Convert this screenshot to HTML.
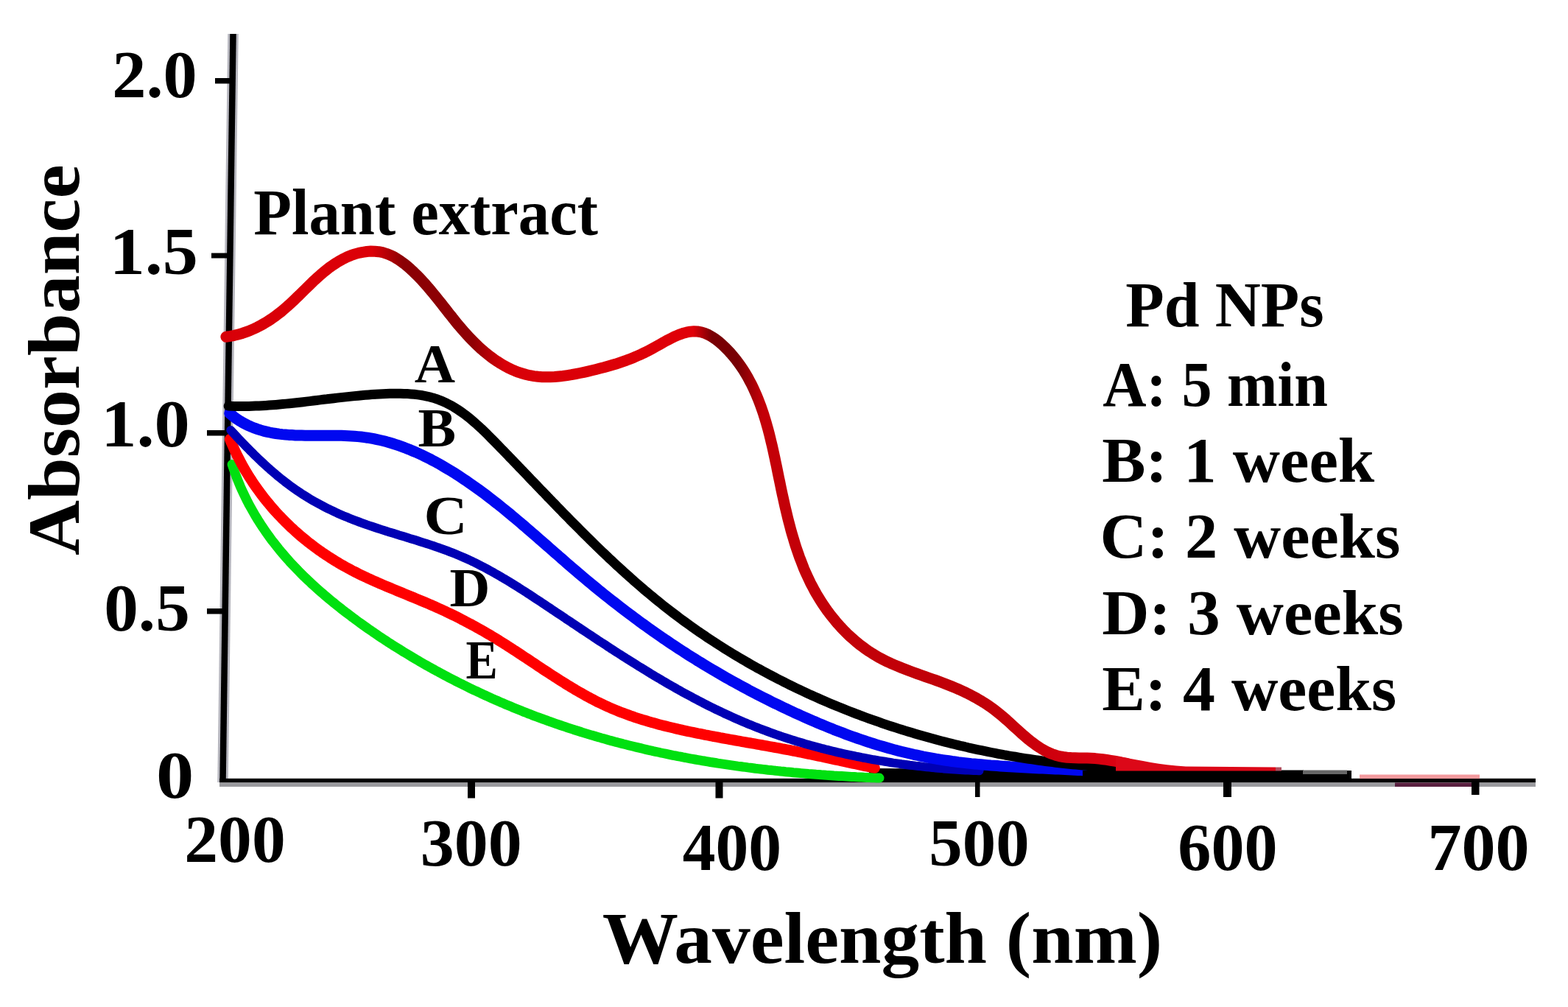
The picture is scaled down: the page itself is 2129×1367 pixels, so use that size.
<!DOCTYPE html>
<html><head><meta charset="utf-8"><style>
html,body{margin:0;padding:0;background:#fff;overflow:hidden;}
svg{display:block;}
text{font-family:"Liberation Serif","Times New Roman",serif;font-weight:bold;}
</style></head><body>
<svg width="2129" height="1367" viewBox="0 0 2129 1367">
<defs><linearGradient id="pg" gradientUnits="userSpaceOnUse" x1="300" y1="0" x2="2010" y2="0">
<stop offset="0" stop-color="#d80008"/>
<stop offset="0.12" stop-color="#dc0008"/>
<stop offset="0.145" stop-color="#8a0004"/>
<stop offset="0.2" stop-color="#900004"/>
<stop offset="0.225" stop-color="#d80008"/>
<stop offset="0.375" stop-color="#e00008"/>
<stop offset="0.39" stop-color="#780004"/>
<stop offset="0.41" stop-color="#780004"/>
<stop offset="0.43" stop-color="#c40008"/>
<stop offset="0.6" stop-color="#c00008"/>
<stop offset="0.7" stop-color="#d80010"/>
<stop offset="1" stop-color="#e04060"/>
</linearGradient></defs>
<rect width="2129" height="1367" fill="#fff"/>
<line x1="316.5" y1="46" x2="302.5" y2="1062" stroke="#b8b8c0" stroke-width="14.5"/>
<line x1="316.5" y1="46" x2="302.5" y2="1062" stroke="#000" stroke-width="8.5"/>
<rect x="298" y="1056.8" width="1787" height="5.7000000000000455" fill="#000"/>
<rect x="298" y="1062.5" width="1787" height="5.5" fill="#9a9a9e"/>
<rect x="292" y="106" width="23" height="7.5" fill="#000"/>
<rect x="287" y="343.5" width="25" height="7.0" fill="#000"/>
<rect x="281" y="584" width="28" height="7.5" fill="#000"/>
<rect x="281" y="826" width="25" height="7.5" fill="#000"/>
<rect x="635" y="1062" width="10" height="21.5" fill="#000"/>
<rect x="971.5" y="1062" width="10.0" height="21.5" fill="#000"/>
<rect x="1324" y="1062" width="6.5" height="20" fill="#000"/>
<rect x="1661" y="1062" width="11" height="20" fill="#000"/>
<rect x="1998" y="1062" width="10.5" height="17" fill="#000"/>
<rect x="1846" y="1051.5" width="163" height="5.5" fill="#f39a9e"/>
<rect x="1740" y="1045.5" width="30" height="6" fill="#000"/>
<path d="M1180,1043 L1290,1043.5 L1450,1046 L1835,1046 L1835,1058 L1180,1058 Z" fill="#000"/>
<path d="M315.1,630.4 L316.2,633.8 L317.4,637.2 L318.6,640.6 L319.8,643.9 L321.0,647.2 L322.3,650.5 L323.6,653.8 L325.0,657.1 L326.3,660.3 L327.7,663.5 L329.2,666.7 L330.7,669.8 L332.2,673.0 L333.7,676.1 L335.2,679.2 L336.8,682.3 L338.4,685.4 L340.1,688.4 L341.8,691.4 L343.5,694.4 L345.2,697.4 L346.9,700.4 L348.7,703.3 L350.5,706.2 L352.4,709.1 L354.2,712.0 L356.1,714.9 L358.0,717.7 L360.0,720.6 L361.9,723.4 L363.9,726.1 L365.9,728.9 L367.9,731.7 L370.0,734.4 L372.1,737.1 L374.2,739.8 L376.3,742.4 L378.4,745.1 L380.6,747.7 L382.8,750.4 L385.0,752.9 L387.2,755.5 L389.5,758.1 L391.8,760.6 L394.0,763.2 L396.4,765.7 L398.7,768.2 L401.0,770.6 L403.4,773.1 L405.8,775.5 L408.2,778.0 L410.6,780.4 L413.0,782.8 L415.5,785.1 L418.0,787.5 L420.5,789.8 L423.0,792.2 L425.5,794.5 L428.0,796.8 L430.6,799.1 L433.1,801.3 L435.7,803.6 L438.3,805.8 L440.9,808.1 L443.5,810.3 L446.1,812.5 L448.8,814.7 L451.4,816.9 L454.1,819.0 L456.8,821.2 L459.4,823.3 L462.1,825.4 L464.8,827.6 L467.6,829.7 L470.3,831.8 L473.0,833.8 L475.8,835.9 L478.5,838.0 L481.3,840.0 L484.1,842.1 L486.8,844.1 L489.6,846.1 L492.4,848.1 L495.2,850.1 L498.0,852.1 L500.8,854.1 L503.7,856.0 L506.5,858.0 L509.3,859.9 L512.2,861.9 L515.0,863.8 L517.9,865.7 L520.8,867.6 L523.7,869.5 L526.5,871.4 L529.4,873.2 L532.3,875.1 L535.2,877.0 L538.1,878.8 L541.0,880.6 L544.0,882.4 L546.9,884.3 L549.8,886.0 L552.8,887.8 L555.7,889.6 L558.7,891.4 L561.6,893.1 L564.6,894.9 L567.6,896.6 L570.5,898.4 L573.5,900.1 L576.5,901.8 L579.5,903.5 L582.5,905.2 L585.5,906.8 L588.5,908.5 L591.5,910.2 L594.6,911.8 L597.6,913.4 L600.6,915.1 L603.6,916.7 L606.7,918.3 L609.7,919.9 L612.8,921.5 L615.8,923.0 L618.9,924.6 L622.0,926.2 L625.0,927.7 L628.1,929.2 L631.2,930.8 L634.2,932.3 L637.3,933.8 L640.4,935.3 L643.5,936.8 L646.6,938.2 L649.7,939.7 L652.8,941.1 L655.9,942.6 L659.0,944.0 L662.1,945.4 L665.3,946.9 L668.4,948.3 L671.5,949.7 L674.7,951.0 L677.8,952.4 L680.9,953.8 L684.1,955.1 L687.2,956.5 L690.4,957.8 L693.6,959.1 L696.7,960.4 L699.9,961.7 L703.1,963.0 L706.3,964.3 L709.4,965.6 L712.6,966.8 L715.8,968.1 L719.0,969.3 L722.2,970.6 L725.4,971.8 L728.6,973.0 L731.8,974.2 L735.1,975.4 L738.3,976.5 L741.5,977.7 L744.7,978.9 L748.0,980.0 L751.2,981.2 L754.5,982.3 L757.7,983.4 L760.9,984.5 L764.2,985.6 L767.5,986.7 L770.7,987.8 L774.0,988.9 L777.2,989.9 L780.5,991.0 L783.8,992.0 L787.1,993.0 L790.3,994.1 L793.6,995.1 L796.9,996.1 L800.2,997.1 L803.5,998.1 L806.8,999.0 L810.1,1000.0 L813.4,1000.9 L816.7,1001.9 L820.0,1002.8 L823.3,1003.7 L826.6,1004.7 L830.0,1005.6 L833.3,1006.5 L836.6,1007.4 L839.9,1008.2 L843.3,1009.1 L846.6,1010.0 L849.9,1010.8 L853.3,1011.7 L856.6,1012.5 L859.9,1013.3 L863.3,1014.1 L866.6,1014.9 L870.0,1015.7 L873.3,1016.5 L876.7,1017.3 L880.0,1018.1 L883.4,1018.8 L886.7,1019.6 L890.1,1020.3 L893.5,1021.0 L896.8,1021.8 L900.2,1022.5 L903.6,1023.2 L906.9,1023.9 L910.3,1024.6 L913.7,1025.3 L917.0,1025.9 L920.4,1026.6 L923.8,1027.2 L927.2,1027.9 L930.6,1028.5 L933.9,1029.2 L937.3,1029.8 L940.7,1030.4 L944.1,1031.0 L947.5,1031.6 L950.9,1032.2 L954.3,1032.8 L957.7,1033.3 L961.1,1033.9 L964.5,1034.5 L967.9,1035.0 L971.3,1035.5 L974.7,1036.1 L978.1,1036.6 L981.5,1037.1 L984.9,1037.6 L988.3,1038.1 L991.7,1038.6 L995.1,1039.1 L998.5,1039.6 L1001.9,1040.1 L1005.3,1040.5 L1008.8,1041.0 L1012.2,1041.4 L1015.6,1041.9 L1019.0,1042.3 L1022.4,1042.7 L1025.8,1043.2 L1029.3,1043.6 L1032.7,1044.0 L1036.1,1044.4 L1039.5,1044.8 L1042.9,1045.2 L1046.4,1045.5 L1049.8,1045.9 L1053.2,1046.3 L1056.6,1046.6 L1060.1,1047.0 L1063.5,1047.3 L1066.9,1047.7 L1070.4,1048.0 L1073.8,1048.3 L1077.2,1048.7 L1080.7,1049.0 L1084.1,1049.3 L1087.5,1049.6 L1090.9,1049.9 L1094.4,1050.2 L1097.8,1050.5 L1101.2,1050.7 L1104.7,1051.0 L1108.1,1051.3 L1111.6,1051.5 L1115.0,1051.8 L1118.4,1052.0 L1121.9,1052.3 L1125.3,1052.5 L1128.7,1052.7 L1132.2,1053.0 L1135.6,1053.2 L1139.0,1053.4 L1142.5,1053.6 L1145.9,1053.8 L1149.4,1054.0 L1152.8,1054.2 L1156.2,1054.4 L1159.7,1054.6 L1163.1,1054.8 L1166.5,1054.9 L1170.0,1055.1 L1173.4,1055.3 L1176.9,1055.4 L1180.3,1055.6 L1183.7,1055.7 L1187.2,1055.8 L1190.6,1056.0 L1194.0,1056.1" fill="none" stroke="#00e010" stroke-width="13" stroke-linecap="round" stroke-linejoin="round"/>
<path d="M312.2,596.3 L313.5,599.5 L314.9,602.7 L316.3,605.9 L317.7,609.0 L319.1,612.1 L320.6,615.2 L322.1,618.3 L323.7,621.4 L325.3,624.4 L326.9,627.5 L328.5,630.5 L330.2,633.5 L331.8,636.4 L333.6,639.4 L335.3,642.3 L337.1,645.2 L338.9,648.1 L340.8,651.0 L342.6,653.8 L344.5,656.7 L346.4,659.5 L348.4,662.3 L350.4,665.0 L352.4,667.8 L354.4,670.5 L356.5,673.2 L358.5,675.9 L360.7,678.6 L362.8,681.2 L365.0,683.8 L367.1,686.4 L369.3,689.0 L371.6,691.6 L373.8,694.1 L376.1,696.6 L378.4,699.1 L380.8,701.6 L383.1,704.0 L385.5,706.4 L387.9,708.8 L390.3,711.2 L392.7,713.5 L395.2,715.9 L397.7,718.2 L400.2,720.5 L402.7,722.7 L405.3,725.0 L407.8,727.2 L410.4,729.4 L413.0,731.5 L415.7,733.7 L418.3,735.8 L421.0,737.9 L423.7,739.9 L426.4,742.0 L429.1,744.0 L431.8,746.0 L434.6,747.9 L437.4,749.9 L440.2,751.8 L443.0,753.7 L445.8,755.5 L448.7,757.4 L451.5,759.2 L454.4,761.0 L457.3,762.7 L460.2,764.5 L463.1,766.2 L466.1,767.9 L469.0,769.5 L472.0,771.1 L474.9,772.7 L477.9,774.3 L480.9,775.9 L484.0,777.4 L487.0,778.9 L490.0,780.4 L493.1,781.9 L496.2,783.3 L499.2,784.8 L502.3,786.2 L505.4,787.6 L508.5,789.0 L511.6,790.3 L514.7,791.7 L517.8,793.0 L520.9,794.4 L524.1,795.7 L527.2,797.0 L530.3,798.3 L533.5,799.6 L536.6,800.9 L539.7,802.2 L542.9,803.5 L546.0,804.8 L549.2,806.1 L552.3,807.4 L555.5,808.7 L558.6,810.0 L561.8,811.3 L564.9,812.6 L568.0,813.9 L571.2,815.2 L574.3,816.5 L577.4,817.8 L580.6,819.1 L583.7,820.5 L586.8,821.8 L589.9,823.2 L593.0,824.6 L596.1,826.0 L599.2,827.4 L602.2,828.8 L605.3,830.2 L608.4,831.7 L611.4,833.1 L614.5,834.6 L617.5,836.1 L620.5,837.6 L623.5,839.1 L626.5,840.7 L629.5,842.2 L632.5,843.8 L635.5,845.4 L638.5,846.9 L641.5,848.6 L644.5,850.2 L647.4,851.8 L650.4,853.5 L653.3,855.1 L656.3,856.8 L659.2,858.5 L662.1,860.2 L665.1,861.9 L668.0,863.7 L670.9,865.4 L673.8,867.2 L676.7,869.0 L679.6,870.8 L682.5,872.6 L685.3,874.4 L688.2,876.2 L691.1,878.1 L694.0,879.9 L696.8,881.8 L699.7,883.6 L702.5,885.5 L705.4,887.4 L708.2,889.3 L711.1,891.2 L713.9,893.0 L716.8,894.9 L719.6,896.8 L722.5,898.7 L725.3,900.6 L728.2,902.5 L731.0,904.4 L733.9,906.3 L736.7,908.2 L739.6,910.1 L742.4,911.9 L745.3,913.8 L748.2,915.7 L751.0,917.5 L753.9,919.4 L756.8,921.2 L759.6,923.1 L762.5,924.9 L765.4,926.7 L768.3,928.5 L771.2,930.3 L774.1,932.0 L777.0,933.8 L779.9,935.5 L782.8,937.3 L785.8,939.0 L788.7,940.6 L791.6,942.3 L794.6,944.0 L797.6,945.6 L800.5,947.2 L803.5,948.8 L806.5,950.3 L809.5,951.9 L812.5,953.4 L815.5,954.8 L818.6,956.3 L821.6,957.7 L824.7,959.1 L827.8,960.5 L830.8,961.8 L833.9,963.1 L837.0,964.4 L840.2,965.7 L843.3,966.9 L846.4,968.1 L849.6,969.3 L852.7,970.4 L855.9,971.6 L859.1,972.7 L862.3,973.8 L865.5,974.8 L868.7,975.8 L871.9,976.9 L875.1,977.8 L878.4,978.8 L881.6,979.8 L884.9,980.7 L888.1,981.6 L891.4,982.5 L894.6,983.4 L897.9,984.3 L901.2,985.1 L904.5,985.9 L907.8,986.7 L911.1,987.5 L914.4,988.3 L917.7,989.1 L921.0,989.9 L924.3,990.6 L927.6,991.4 L930.9,992.1 L934.3,992.8 L937.6,993.5 L940.9,994.2 L944.2,994.9 L947.6,995.6 L950.9,996.2 L954.3,996.9 L957.6,997.6 L960.9,998.2 L964.3,998.8 L967.6,999.5 L971.0,1000.1 L974.3,1000.7 L977.7,1001.4 L981.0,1002.0 L984.4,1002.6 L987.7,1003.2 L991.1,1003.8 L994.4,1004.4 L997.8,1005.0 L1001.1,1005.6 L1004.5,1006.2 L1007.8,1006.8 L1011.2,1007.4 L1014.5,1008.0 L1017.9,1008.5 L1021.2,1009.1 L1024.6,1009.7 L1027.9,1010.3 L1031.3,1010.9 L1034.6,1011.5 L1038.0,1012.1 L1041.3,1012.7 L1044.7,1013.3 L1048.0,1013.9 L1051.4,1014.5 L1054.7,1015.1 L1058.1,1015.7 L1061.4,1016.4 L1064.8,1017.0 L1068.1,1017.6 L1071.4,1018.2 L1074.8,1018.9 L1078.1,1019.5 L1081.5,1020.2 L1084.8,1020.8 L1088.1,1021.5 L1091.4,1022.2 L1094.8,1022.9 L1098.1,1023.6 L1101.4,1024.2 L1104.7,1024.9 L1108.1,1025.6 L1111.4,1026.3 L1114.7,1027.0 L1118.0,1027.7 L1121.3,1028.5 L1124.6,1029.2 L1128.0,1029.9 L1131.3,1030.6 L1134.6,1031.3 L1137.9,1032.0 L1141.2,1032.7 L1144.5,1033.5 L1147.8,1034.2 L1151.1,1034.9 L1154.5,1035.6 L1157.8,1036.3 L1161.1,1037.0 L1164.4,1037.7 L1167.7,1038.4 L1171.0,1039.1 L1174.3,1039.8 L1177.7,1040.5 L1181.0,1041.2 L1184.3,1041.8 L1187.6,1042.5" fill="none" stroke="#ff0000" stroke-width="14.5" stroke-linecap="round" stroke-linejoin="round"/>
<path d="M313.3,584.0 L315.9,586.8 L318.5,589.6 L321.1,592.5 L323.8,595.3 L326.4,598.1 L329.1,600.9 L331.8,603.7 L334.5,606.4 L337.2,609.2 L339.9,611.9 L342.6,614.6 L345.4,617.4 L348.1,620.0 L350.9,622.7 L353.7,625.4 L356.5,628.0 L359.3,630.6 L362.1,633.2 L365.0,635.7 L367.8,638.3 L370.7,640.8 L373.6,643.2 L376.5,645.7 L379.5,648.1 L382.4,650.5 L385.4,652.8 L388.4,655.2 L391.4,657.4 L394.5,659.7 L397.5,661.9 L400.6,664.1 L403.7,666.2 L406.8,668.3 L410.0,670.4 L413.1,672.4 L416.3,674.4 L419.5,676.4 L422.7,678.3 L426.0,680.2 L429.3,682.0 L432.5,683.8 L435.8,685.6 L439.2,687.4 L442.5,689.1 L445.9,690.8 L449.3,692.4 L452.7,694.0 L456.1,695.6 L459.5,697.2 L462.9,698.7 L466.4,700.2 L469.9,701.6 L473.4,703.1 L476.9,704.5 L480.4,705.9 L483.9,707.2 L487.5,708.5 L491.1,709.8 L494.6,711.1 L498.2,712.4 L501.8,713.6 L505.4,714.8 L509.0,716.0 L512.7,717.2 L516.3,718.4 L519.9,719.6 L523.6,720.7 L527.2,721.9 L530.9,723.0 L534.5,724.1 L538.2,725.2 L541.8,726.4 L545.5,727.5 L549.2,728.6 L552.8,729.7 L556.5,730.9 L560.2,732.0 L563.8,733.1 L567.5,734.3 L571.1,735.4 L574.8,736.6 L578.4,737.7 L582.0,738.9 L585.7,740.1 L589.3,741.3 L592.9,742.6 L596.5,743.8 L600.1,745.1 L603.6,746.4 L607.2,747.7 L610.8,749.1 L614.3,750.4 L617.8,751.8 L621.3,753.3 L624.8,754.7 L628.3,756.2 L631.8,757.8 L635.2,759.3 L638.7,760.9 L642.1,762.5 L645.5,764.2 L648.9,765.9 L652.2,767.6 L655.6,769.3 L658.9,771.1 L662.3,772.9 L665.6,774.7 L668.9,776.5 L672.2,778.4 L675.5,780.2 L678.8,782.1 L682.0,784.1 L685.3,786.0 L688.5,787.9 L691.8,789.9 L695.0,791.9 L698.2,793.9 L701.5,795.9 L704.7,797.9 L707.9,800.0 L711.1,802.0 L714.3,804.1 L717.5,806.2 L720.7,808.2 L723.8,810.3 L727.0,812.4 L730.2,814.5 L733.4,816.6 L736.6,818.7 L739.7,820.8 L742.9,822.9 L746.1,825.0 L749.2,827.2 L752.4,829.3 L755.6,831.4 L758.7,833.5 L761.9,835.6 L765.1,837.7 L768.2,839.9 L771.4,842.0 L774.6,844.1 L777.7,846.2 L780.9,848.3 L784.1,850.4 L787.2,852.5 L790.4,854.7 L793.6,856.8 L796.7,858.9 L799.9,861.0 L803.1,863.1 L806.3,865.2 L809.4,867.3 L812.6,869.4 L815.8,871.5 L819.0,873.5 L822.2,875.6 L825.3,877.7 L828.5,879.8 L831.7,881.8 L834.9,883.9 L838.1,886.0 L841.3,888.0 L844.5,890.1 L847.7,892.1 L850.9,894.2 L854.1,896.2 L857.3,898.2 L860.5,900.2 L863.8,902.2 L867.0,904.3 L870.2,906.2 L873.4,908.2 L876.7,910.2 L879.9,912.2 L883.1,914.2 L886.4,916.1 L889.6,918.1 L892.9,920.0 L896.2,921.9 L899.4,923.9 L902.7,925.8 L906.0,927.7 L909.2,929.6 L912.5,931.4 L915.8,933.3 L919.1,935.2 L922.4,937.0 L925.7,938.9 L929.0,940.7 L932.3,942.5 L935.7,944.3 L939.0,946.1 L942.3,947.9 L945.7,949.6 L949.0,951.4 L952.4,953.1 L955.7,954.9 L959.1,956.6 L962.5,958.3 L965.9,960.0 L969.2,961.6 L972.6,963.3 L976.0,964.9 L979.5,966.5 L982.9,968.2 L986.3,969.8 L989.7,971.3 L993.2,972.9 L996.6,974.4 L1000.1,976.0 L1003.6,977.5 L1007.0,979.0 L1010.5,980.5 L1014.0,981.9 L1017.5,983.4 L1021.0,984.8 L1024.5,986.2 L1028.1,987.6 L1031.6,989.0 L1035.2,990.4 L1038.7,991.7 L1042.3,993.0 L1045.9,994.3 L1049.4,995.6 L1053.0,996.9 L1056.6,998.1 L1060.2,999.4 L1063.9,1000.6 L1067.5,1001.8 L1071.1,1002.9 L1074.7,1004.1 L1078.4,1005.3 L1082.0,1006.4 L1085.7,1007.5 L1089.4,1008.6 L1093.0,1009.7 L1096.7,1010.7 L1100.4,1011.8 L1104.1,1012.8 L1107.8,1013.8 L1111.5,1014.8 L1115.2,1015.8 L1118.9,1016.7 L1122.6,1017.7 L1126.3,1018.6 L1130.0,1019.5 L1133.7,1020.4 L1137.5,1021.3 L1141.2,1022.1 L1145.0,1023.0 L1148.7,1023.8 L1152.4,1024.6 L1156.2,1025.4 L1160.0,1026.2 L1163.7,1027.0 L1167.5,1027.7 L1171.2,1028.5 L1175.0,1029.2 L1178.8,1029.9 L1182.5,1030.6 L1186.3,1031.3 L1190.1,1031.9 L1193.9,1032.6 L1197.6,1033.2 L1201.4,1033.8 L1205.2,1034.4 L1209.0,1035.0 L1212.8,1035.6 L1216.5,1036.1 L1220.3,1036.6 L1224.1,1037.2 L1227.9,1037.7 L1231.7,1038.2 L1235.5,1038.7 L1239.3,1039.1 L1243.0,1039.6 L1246.8,1040.0 L1250.6,1040.4 L1254.4,1040.9 L1258.2,1041.3 L1262.0,1041.6 L1265.7,1042.0 L1269.5,1042.4 L1273.3,1042.7 L1277.1,1043.0 L1280.8,1043.4 L1284.6,1043.7 L1288.4,1043.9 L1292.1,1044.2 L1295.9,1044.5 L1299.7,1044.7 L1303.4,1045.0 L1307.2,1045.2 L1310.9,1045.4 L1314.7,1045.6 L1318.4,1045.8 L1322.1,1046.0 L1325.9,1046.1 L1329.6,1046.3" fill="none" stroke="#0000b4" stroke-width="12" stroke-linecap="round" stroke-linejoin="round"/>
<path d="M311.7,561.0 L315.3,564.0 L318.9,566.8 L322.5,569.4 L326.3,571.8 L330.0,574.0 L333.9,576.0 L337.8,577.9 L341.7,579.6 L345.7,581.2 L349.7,582.6 L353.8,583.9 L357.9,585.1 L362.1,586.1 L366.2,587.0 L370.5,587.8 L374.7,588.5 L379.0,589.1 L383.3,589.6 L387.7,590.0 L392.1,590.4 L396.4,590.6 L400.9,590.9 L405.3,591.0 L409.7,591.1 L414.2,591.2 L418.7,591.2 L423.2,591.3 L427.7,591.3 L432.2,591.2 L436.7,591.2 L441.2,591.2 L445.7,591.2 L450.2,591.2 L454.7,591.2 L459.2,591.3 L463.6,591.3 L468.1,591.5 L472.6,591.7 L477.0,591.9 L481.4,592.2 L485.8,592.6 L490.2,593.0 L494.6,593.6 L498.9,594.2 L503.2,594.9 L507.5,595.7 L511.8,596.6 L516.0,597.5 L520.3,598.5 L524.5,599.6 L528.6,600.8 L532.8,602.0 L536.9,603.3 L541.0,604.7 L545.1,606.1 L549.2,607.6 L553.2,609.2 L557.3,610.8 L561.2,612.5 L565.2,614.2 L569.2,616.0 L573.1,617.8 L577.0,619.7 L580.9,621.7 L584.8,623.6 L588.6,625.7 L592.5,627.7 L596.3,629.8 L600.1,632.0 L603.8,634.2 L607.6,636.4 L611.3,638.6 L615.0,640.9 L618.7,643.2 L622.3,645.6 L626.0,648.0 L629.6,650.4 L633.2,652.8 L636.8,655.3 L640.4,657.8 L644.0,660.3 L647.5,662.8 L651.1,665.4 L654.6,668.0 L658.1,670.6 L661.6,673.3 L665.1,675.9 L668.6,678.6 L672.0,681.3 L675.5,684.0 L678.9,686.8 L682.3,689.5 L685.7,692.3 L689.2,695.1 L692.6,697.9 L695.9,700.7 L699.3,703.5 L702.7,706.4 L706.1,709.2 L709.4,712.1 L712.8,714.9 L716.1,717.8 L719.5,720.7 L722.8,723.6 L726.2,726.5 L729.5,729.4 L732.8,732.3 L736.2,735.2 L739.5,738.1 L742.8,741.0 L746.2,744.0 L749.5,746.9 L752.8,749.8 L756.1,752.7 L759.5,755.6 L762.8,758.5 L766.1,761.4 L769.4,764.3 L772.8,767.2 L776.1,770.1 L779.5,773.0 L782.8,775.8 L786.2,778.7 L789.5,781.5 L792.9,784.4 L796.3,787.2 L799.6,790.0 L803.0,792.8 L806.4,795.6 L809.8,798.4 L813.2,801.2 L816.6,803.9 L820.0,806.7 L823.4,809.4 L826.9,812.1 L830.3,814.8 L833.8,817.5 L837.2,820.2 L840.7,822.9 L844.1,825.6 L847.6,828.2 L851.1,830.9 L854.6,833.5 L858.1,836.1 L861.6,838.7 L865.1,841.3 L868.6,843.9 L872.1,846.5 L875.7,849.0 L879.2,851.6 L882.8,854.1 L886.3,856.6 L889.9,859.1 L893.5,861.6 L897.1,864.1 L900.6,866.6 L904.3,869.0 L907.9,871.5 L911.5,873.9 L915.1,876.3 L918.8,878.8 L922.4,881.2 L926.1,883.5 L929.8,885.9 L933.4,888.3 L937.1,890.6 L940.8,892.9 L944.6,895.2 L948.3,897.6 L952.0,899.8 L955.7,902.1 L959.5,904.4 L963.2,906.6 L967.0,908.9 L970.8,911.1 L974.6,913.3 L978.4,915.5 L982.2,917.7 L986.0,919.9 L989.8,922.0 L993.6,924.2 L997.4,926.3 L1001.3,928.4 L1005.1,930.5 L1009.0,932.6 L1012.9,934.7 L1016.7,936.8 L1020.6,938.8 L1024.5,940.8 L1028.4,942.9 L1032.3,944.9 L1036.2,946.9 L1040.1,948.8 L1044.1,950.8 L1048.0,952.8 L1051.9,954.7 L1055.9,956.6 L1059.8,958.5 L1063.8,960.4 L1067.8,962.3 L1071.8,964.2 L1075.7,966.0 L1079.7,967.9 L1083.7,969.7 L1087.7,971.5 L1091.8,973.3 L1095.8,975.1 L1099.8,976.9 L1103.8,978.6 L1107.9,980.3 L1111.9,982.1 L1116.0,983.8 L1120.0,985.4 L1124.1,987.1 L1128.2,988.7 L1132.2,990.4 L1136.3,992.0 L1140.4,993.5 L1144.5,995.1 L1148.6,996.7 L1152.7,998.2 L1156.9,999.7 L1161.0,1001.1 L1165.1,1002.6 L1169.3,1004.0 L1173.4,1005.4 L1177.6,1006.8 L1181.7,1008.2 L1185.9,1009.5 L1190.1,1010.8 L1194.3,1012.1 L1198.5,1013.3 L1202.7,1014.5 L1206.9,1015.7 L1211.1,1016.9 L1215.3,1018.1 L1219.6,1019.2 L1223.8,1020.3 L1228.0,1021.3 L1232.3,1022.3 L1236.6,1023.3 L1240.8,1024.3 L1245.1,1025.2 L1249.4,1026.1 L1253.7,1027.0 L1258.0,1027.8 L1262.3,1028.6 L1266.6,1029.4 L1270.9,1030.2 L1275.2,1030.9 L1279.6,1031.6 L1283.9,1032.2 L1288.2,1032.8 L1292.6,1033.5 L1296.9,1034.0 L1301.3,1034.6 L1305.7,1035.1 L1310.0,1035.6 L1314.4,1036.1 L1318.8,1036.6 L1323.2,1037.0 L1327.6,1037.4 L1331.9,1037.8 L1336.3,1038.2 L1340.7,1038.6 L1345.1,1039.0 L1349.5,1039.3 L1353.9,1039.6 L1358.3,1039.9 L1362.7,1040.2 L1367.1,1040.5 L1371.5,1040.8 L1375.9,1041.0 L1380.4,1041.3 L1384.8,1041.5 L1389.2,1041.8 L1393.6,1042.0 L1398.0,1042.2 L1402.4,1042.4 L1406.8,1042.7 L1411.2,1042.9 L1415.6,1043.1 L1420.0,1043.3 L1424.4,1043.5 L1428.8,1043.7 L1433.2,1043.9 L1437.5,1044.1 L1441.9,1044.3 L1446.3,1044.5 L1450.7,1044.7 L1455.1,1044.9 L1459.4,1045.2 L1463.8,1045.4 L1468.1,1045.6 L1472.5,1045.9 L1476.9,1046.1 L1481.2,1046.4 L1485.5,1046.7 L1489.9,1047.0" fill="none" stroke="#0008f0" stroke-width="15" stroke-linecap="round" stroke-linejoin="round"/>
<path d="M310.2,551.1 L314.8,551.3 L319.5,551.4 L324.1,551.5 L328.7,551.5 L333.3,551.5 L337.9,551.4 L342.5,551.3 L347.1,551.1 L351.7,550.9 L356.3,550.7 L360.9,550.4 L365.5,550.1 L370.1,549.8 L374.7,549.4 L379.3,549.0 L383.9,548.6 L388.5,548.1 L393.0,547.7 L397.6,547.2 L402.2,546.7 L406.9,546.2 L411.5,545.7 L416.1,545.1 L420.7,544.6 L425.3,544.0 L429.9,543.5 L434.6,542.9 L439.2,542.3 L443.9,541.8 L448.5,541.2 L453.2,540.7 L457.9,540.1 L462.5,539.6 L467.2,539.1 L471.9,538.6 L476.6,538.1 L481.4,537.6 L486.1,537.2 L490.8,536.7 L495.6,536.3 L500.4,535.9 L505.1,535.6 L509.9,535.3 L514.7,535.0 L519.6,534.7 L524.4,534.5 L529.2,534.3 L534.0,534.2 L538.9,534.2 L543.7,534.2 L548.5,534.4 L553.2,534.6 L557.9,534.9 L562.6,535.3 L567.3,535.9 L571.9,536.5 L576.4,537.3 L580.9,538.3 L585.3,539.4 L589.6,540.6 L593.9,542.0 L598.0,543.6 L602.1,545.3 L606.2,547.2 L610.1,549.2 L614.0,551.3 L617.8,553.6 L621.6,556.0 L625.3,558.5 L629.0,561.1 L632.6,563.8 L636.2,566.6 L639.7,569.5 L643.2,572.5 L646.6,575.5 L650.1,578.6 L653.5,581.7 L656.8,584.9 L660.2,588.2 L663.5,591.5 L666.8,594.8 L670.1,598.1 L673.4,601.5 L676.6,604.8 L679.9,608.2 L683.2,611.5 L686.4,614.9 L689.7,618.3 L692.9,621.7 L696.2,625.0 L699.4,628.4 L702.7,631.8 L705.9,635.2 L709.2,638.5 L712.4,641.9 L715.7,645.3 L718.9,648.7 L722.1,652.1 L725.4,655.4 L728.6,658.8 L731.9,662.2 L735.1,665.6 L738.4,668.9 L741.6,672.3 L744.8,675.7 L748.1,679.0 L751.3,682.4 L754.6,685.7 L757.8,689.1 L761.1,692.4 L764.3,695.8 L767.6,699.1 L770.9,702.4 L774.1,705.8 L777.4,709.1 L780.7,712.4 L784.0,715.7 L787.3,719.0 L790.6,722.3 L793.9,725.6 L797.2,728.8 L800.5,732.1 L803.8,735.4 L807.1,738.6 L810.4,741.8 L813.8,745.1 L817.1,748.3 L820.5,751.5 L823.8,754.7 L827.2,757.9 L830.6,761.1 L834.0,764.2 L837.4,767.4 L840.8,770.5 L844.2,773.6 L847.6,776.7 L851.1,779.8 L854.5,782.9 L858.0,786.0 L861.4,789.1 L864.9,792.1 L868.4,795.1 L871.9,798.2 L875.4,801.2 L879.0,804.1 L882.5,807.1 L886.1,810.1 L889.6,813.0 L893.2,815.9 L896.8,818.8 L900.4,821.7 L904.1,824.6 L907.7,827.4 L911.4,830.2 L915.0,833.0 L918.7,835.8 L922.4,838.6 L926.1,841.4 L929.9,844.1 L933.6,846.8 L937.4,849.5 L941.1,852.2 L944.9,854.8 L948.7,857.5 L952.6,860.1 L956.4,862.7 L960.2,865.3 L964.1,867.9 L968.0,870.4 L971.8,872.9 L975.7,875.4 L979.6,877.9 L983.6,880.4 L987.5,882.9 L991.4,885.3 L995.4,887.7 L999.4,890.1 L1003.4,892.5 L1007.4,894.9 L1011.4,897.2 L1015.4,899.5 L1019.4,901.8 L1023.5,904.1 L1027.5,906.4 L1031.6,908.6 L1035.7,910.9 L1039.8,913.1 L1043.9,915.3 L1048.0,917.4 L1052.1,919.6 L1056.2,921.7 L1060.4,923.8 L1064.5,925.9 L1068.7,928.0 L1072.9,930.1 L1077.1,932.1 L1081.3,934.2 L1085.5,936.2 L1089.7,938.1 L1093.9,940.1 L1098.1,942.1 L1102.4,944.0 L1106.6,945.9 L1110.9,947.8 L1115.2,949.7 L1119.4,951.5 L1123.7,953.4 L1128.0,955.2 L1132.3,957.0 L1136.6,958.8 L1141.0,960.5 L1145.3,962.3 L1149.6,964.0 L1154.0,965.7 L1158.3,967.4 L1162.7,969.1 L1167.1,970.7 L1171.4,972.4 L1175.8,974.0 L1180.2,975.6 L1184.6,977.1 L1189.0,978.7 L1193.4,980.2 L1197.8,981.8 L1202.3,983.3 L1206.7,984.8 L1211.1,986.2 L1215.6,987.7 L1220.0,989.1 L1224.5,990.5 L1228.9,991.9 L1233.4,993.3 L1237.9,994.6 L1242.4,996.0 L1246.8,997.3 L1251.3,998.6 L1255.8,999.8 L1260.3,1001.1 L1264.8,1002.3 L1269.3,1003.6 L1273.8,1004.8 L1278.4,1006.0 L1282.9,1007.1 L1287.4,1008.3 L1291.9,1009.4 L1296.5,1010.5 L1301.0,1011.6 L1305.5,1012.7 L1310.1,1013.7 L1314.6,1014.8 L1319.2,1015.8 L1323.7,1016.8 L1328.3,1017.8 L1332.8,1018.7 L1337.4,1019.7 L1342.0,1020.6 L1346.5,1021.5 L1351.1,1022.4 L1355.7,1023.3 L1360.3,1024.1 L1364.8,1025.0 L1369.4,1025.8 L1374.0,1026.6 L1378.6,1027.3 L1383.2,1028.1 L1387.7,1028.8 L1392.3,1029.6 L1396.9,1030.3 L1401.5,1030.9 L1406.1,1031.6 L1410.7,1032.2 L1415.3,1032.9 L1419.9,1033.5 L1424.5,1034.1 L1429.1,1034.6 L1433.7,1035.2 L1438.2,1035.7 L1442.8,1036.2 L1447.4,1036.7 L1452.0,1037.2 L1456.6,1037.7 L1461.2,1038.1 L1465.8,1038.5 L1470.4,1039.0 L1475.0,1039.3 L1479.6,1039.7 L1484.2,1040.1 L1488.7,1040.4 L1493.3,1040.7 L1497.9,1041.0 L1502.5,1041.3 L1507.1,1041.5 L1511.7,1041.8 L1516.2,1042.0 L1520.8,1042.2 L1525.4,1042.3 L1530.0,1042.5 L1534.5,1042.7 L1539.1,1042.8" fill="none" stroke="#000000" stroke-width="13" stroke-linecap="round" stroke-linejoin="round"/>
<path d="M306.9,457.2 L312.6,456.4 L318.2,455.3 L323.6,453.9 L329.0,452.4 L334.2,450.6 L339.4,448.7 L344.4,446.5 L349.3,444.2 L354.2,441.6 L359.0,438.9 L363.6,436.1 L368.2,433.1 L372.8,429.9 L377.2,426.6 L381.6,423.2 L385.8,419.6 L390.1,415.9 L394.2,412.2 L398.4,408.3 L402.4,404.4 L406.5,400.5 L410.5,396.5 L414.6,392.5 L418.6,388.6 L422.7,384.6 L426.7,380.7 L430.9,376.9 L435.0,373.2 L439.3,369.6 L443.6,366.1 L447.9,362.7 L452.4,359.6 L457.0,356.6 L461.7,353.8 L466.5,351.2 L471.4,348.8 L476.5,346.7 L481.8,344.9 L487.1,343.4 L492.5,342.3 L498.0,341.5 L503.4,341.1 L508.9,341.2 L514.2,341.7 L519.5,342.7 L524.7,344.3 L529.7,346.2 L534.6,348.6 L539.4,351.4 L544.0,354.5 L548.6,357.8 L553.0,361.4 L557.3,365.2 L561.5,369.1 L565.6,373.1 L569.5,377.1 L573.4,381.2 L577.2,385.4 L580.9,389.6 L584.5,393.9 L588.1,398.2 L591.6,402.5 L595.1,406.9 L598.6,411.2 L602.0,415.6 L605.5,420.0 L608.9,424.4 L612.4,428.7 L615.8,433.1 L619.3,437.4 L622.8,441.7 L626.4,445.9 L630.1,450.1 L633.8,454.2 L637.5,458.3 L641.4,462.3 L645.4,466.3 L649.4,470.1 L653.5,473.9 L657.7,477.5 L662.0,481.0 L666.3,484.4 L670.7,487.6 L675.3,490.7 L679.9,493.6 L684.6,496.4 L689.3,498.9 L694.2,501.3 L699.1,503.4 L704.2,505.4 L709.3,507.0 L714.5,508.5 L719.7,509.7 L725.1,510.6 L730.6,511.3 L736.1,511.7 L741.7,511.8 L747.3,511.8 L753.0,511.5 L758.7,511.0 L764.4,510.4 L770.2,509.6 L775.9,508.7 L781.6,507.6 L787.2,506.5 L792.9,505.3 L798.4,504.1 L803.9,502.8 L809.3,501.5 L814.7,500.1 L819.9,498.8 L825.2,497.3 L830.3,495.8 L835.5,494.3 L840.6,492.6 L845.6,490.9 L850.7,489.1 L855.7,487.2 L860.7,485.2 L865.7,483.0 L870.7,480.8 L875.8,478.4 L880.8,475.8 L885.9,473.1 L891.0,470.3 L896.1,467.4 L901.2,464.5 L906.4,461.7 L911.5,459.1 L916.6,456.6 L921.8,454.4 L926.9,452.6 L932.0,451.2 L937.1,450.2 L942.1,449.8 L947.1,450.0 L952.1,450.8 L957.0,452.4 L961.9,454.5 L966.7,457.2 L971.3,460.3 L975.9,463.8 L980.3,467.6 L984.5,471.6 L988.6,475.7 L992.4,479.9 L996.2,484.3 L999.7,488.7 L1003.1,493.2 L1006.3,497.8 L1009.4,502.4 L1012.4,507.2 L1015.2,512.0 L1017.8,516.9 L1020.4,521.8 L1022.8,526.8 L1025.1,531.8 L1027.3,536.8 L1029.4,541.9 L1031.4,547.1 L1033.3,552.2 L1035.1,557.4 L1036.9,562.7 L1038.5,567.9 L1040.1,573.2 L1041.6,578.5 L1043.1,583.8 L1044.5,589.2 L1045.8,594.5 L1047.1,599.9 L1048.4,605.3 L1049.6,610.7 L1050.8,616.2 L1052.0,621.6 L1053.1,627.0 L1054.3,632.5 L1055.4,638.0 L1056.5,643.4 L1057.6,648.9 L1058.8,654.4 L1059.9,659.9 L1061.0,665.3 L1062.2,670.8 L1063.4,676.2 L1064.6,681.7 L1065.8,687.1 L1067.1,692.6 L1068.4,698.0 L1069.7,703.4 L1071.1,708.8 L1072.5,714.2 L1073.9,719.6 L1075.4,724.9 L1077.0,730.2 L1078.6,735.5 L1080.2,740.8 L1082.0,746.1 L1083.8,751.3 L1085.6,756.5 L1087.6,761.6 L1089.6,766.8 L1091.6,771.9 L1093.8,776.9 L1096.1,782.0 L1098.4,786.9 L1100.8,791.9 L1103.4,796.8 L1106.0,801.7 L1108.7,806.5 L1111.5,811.2 L1114.5,816.0 L1117.5,820.6 L1120.7,825.3 L1123.9,829.8 L1127.3,834.3 L1130.8,838.7 L1134.4,843.1 L1138.0,847.3 L1141.8,851.5 L1145.7,855.6 L1149.6,859.6 L1153.7,863.5 L1157.9,867.2 L1162.1,870.9 L1166.4,874.4 L1170.9,877.8 L1175.4,881.1 L1180.0,884.3 L1184.7,887.3 L1189.4,890.1 L1194.2,892.9 L1199.2,895.5 L1204.1,897.9 L1209.2,900.3 L1214.2,902.5 L1219.4,904.7 L1224.5,906.8 L1229.7,908.8 L1234.9,910.8 L1240.2,912.7 L1245.4,914.6 L1250.7,916.5 L1255.9,918.3 L1261.2,920.2 L1266.4,922.0 L1271.7,923.9 L1276.8,925.8 L1282.0,927.7 L1287.1,929.7 L1292.2,931.8 L1297.3,933.9 L1302.3,936.0 L1307.2,938.3 L1312.2,940.6 L1317.0,943.0 L1321.8,945.6 L1326.6,948.2 L1331.3,950.9 L1336.0,953.8 L1340.6,956.8 L1345.1,959.9 L1349.6,963.1 L1354.0,966.6 L1358.4,970.1 L1362.7,973.8 L1367.0,977.5 L1371.2,981.3 L1375.4,985.2 L1379.6,989.0 L1383.8,992.8 L1388.0,996.6 L1392.3,1000.3 L1396.6,1003.9 L1400.9,1007.3 L1405.3,1010.6 L1409.7,1013.7 L1414.2,1016.5 L1418.8,1019.1 L1423.5,1021.5 L1428.3,1023.5 L1433.3,1025.2 L1438.3,1026.6 L1443.5,1027.5 L1448.8,1028.2 L1454.2,1028.6 L1459.6,1028.8 L1465.1,1028.9 L1470.6,1029.0 L1476.1,1029.1 L1481.5,1029.3 L1486.9,1029.6 L1492.2,1030.1 L1497.5,1030.7 L1502.7,1031.4 L1508.0,1032.3 L1513.4,1033.2 L1518.8,1034.2 L1524.3,1035.3 L1529.8,1036.4" fill="none" stroke="url(#pg)" stroke-width="15" stroke-linecap="round" stroke-linejoin="round"/>
<rect x="1470" y="1046" width="365" height="12" fill="#000"/>
<path d="M1515,1026.5 C1540,1030 1570,1038 1610,1040.5 L1732,1041.5 L1732,1046.5 L1515,1046.5 Z" fill="#dc0818"/>
<rect x="1732" y="1041.5" width="8" height="5" fill="#b05060"/>
<rect x="1769" y="1045.5" width="60" height="5.5" fill="#666"/>
<rect x="1894" y="1062.5" width="104" height="5.5" fill="#5a2040"/>
<text transform="matrix(1.0256,0,0,1,152.31,132.00)" font-size="90" fill="#000" >2.0</text>
<text transform="matrix(1.0678,0,0,1,148.71,372.00)" font-size="90" fill="#000" >1.5</text>
<text transform="matrix(1.0718,0,0,1,137.28,605.60)" font-size="90" fill="#000" >1.0</text>
<text transform="matrix(1.0351,0,0,1,141.27,856.00)" font-size="90" fill="#000" >0.5</text>
<text transform="matrix(1.1376,0,0,1,211.90,1083.00)" font-size="90" fill="#000" >0</text>
<text transform="matrix(1.0172,0,0,1,250.34,1170.00)" font-size="90" fill="#000" >200</text>
<text transform="matrix(1.0211,0,0,1,570.82,1175.00)" font-size="90" fill="#000" >300</text>
<text transform="matrix(0.9954,0,0,1,926.80,1181.00)" font-size="90" fill="#000" >400</text>
<text transform="matrix(1.0094,0,0,1,1261.37,1175.00)" font-size="90" fill="#000" >500</text>
<text transform="matrix(1.0023,0,0,1,1599.29,1181.00)" font-size="90" fill="#000" >600</text>
<text transform="matrix(1.0238,0,0,1,1938.47,1181.00)" font-size="90" fill="#000" >700</text>
<text transform="matrix(1.0331,0,0,1,817.77,1307.00)" font-size="100" fill="#000" >Wavelength (nm)</text>
<text transform="translate(107.00,754.04) rotate(-90) scale(1.0382,1)" font-size="100" fill="#000">Absorbance</text>
<text transform="matrix(0.9618,0,0,1,344.31,317.50)" font-size="88" fill="#000" >Plant extract</text>
<text transform="matrix(0.9863,0,0,1,1528.28,442.60)" font-size="87" fill="#000" >Pd NPs</text>
<text transform="matrix(0.9444,0,0,1,1497.18,550.80)" font-size="87" fill="#000" >A: 5 min</text>
<text transform="matrix(1.0212,0,0,1,1496.22,654.00)" font-size="87" fill="#000" >B: 1 week</text>
<text transform="matrix(1.0168,0,0,1,1493.58,757.00)" font-size="87" fill="#000" >C: 2 weeks</text>
<text transform="matrix(1.0212,0,0,1,1496.22,860.80)" font-size="87" fill="#000" >D: 3 weeks</text>
<text transform="matrix(1.0096,0,0,1,1496.24,964.00)" font-size="87" fill="#000" >E: 4 weeks</text>
<text transform="matrix(1.0496,0,0,1,562.63,518.50)" font-size="73" fill="#000" >A</text>
<text transform="matrix(1.0605,0,0,1,567.45,605.70)" font-size="73" fill="#000" >B</text>
<text transform="matrix(1.1210,0,0,1,575.41,724.50)" font-size="73" fill="#000" >C</text>
<text transform="matrix(1.0411,0,0,1,610.48,822.90)" font-size="73" fill="#000" >D</text>
<text transform="matrix(0.8881,0,0,1,632.50,921.20)" font-size="73" fill="#000" >E</text>
</svg>
</body></html>
